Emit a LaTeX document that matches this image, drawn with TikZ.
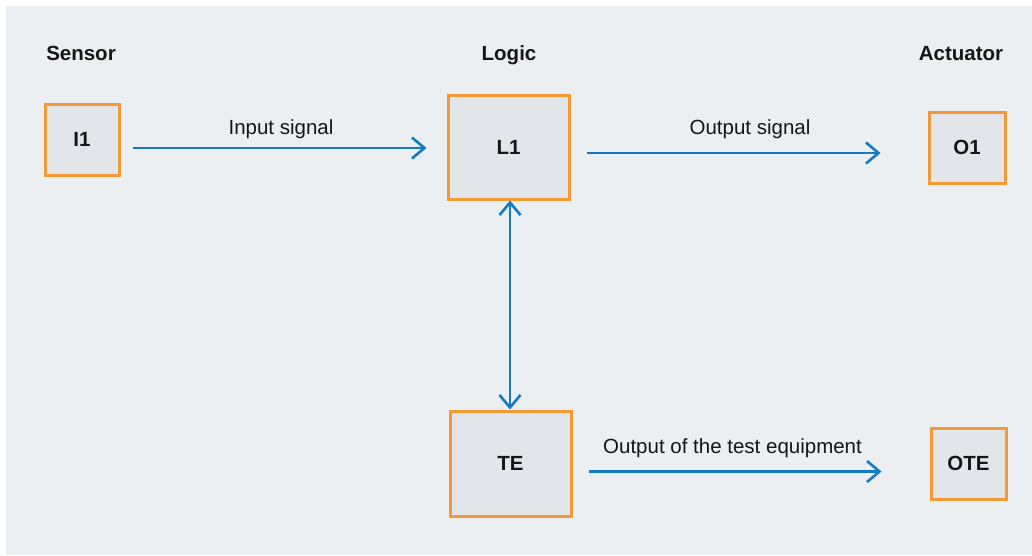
\documentclass[tikz,border=0pt]{standalone}
\usepackage{fontspec}
\setmainfont{Liberation Sans}
\usepackage{tikz}
\usetikzlibrary{arrows.meta}

\definecolor{panel}{HTML}{EBEFF2}
\definecolor{boxfill}{HTML}{E2E6EA}
\definecolor{boxline}{HTML}{F39A36}
\definecolor{sigblue}{HTML}{1679C4}
\definecolor{ink}{HTML}{161616}

\tikzset{
  unit/.style={draw=boxline, line width=3pt, fill=boxfill, inner sep=0pt,
    font=\fontsize{20.5}{24}\selectfont\bfseries, text=ink},
  head/.style={anchor=base, inner sep=0pt, font=\fontsize{20.5}{24}\selectfont\bfseries, text=ink},
  tag/.style={anchor=base, inner sep=0pt, font=\fontsize{20.5}{24}\selectfont, text=ink},
  barb/.tip={Straight Barb[length=12.5pt,width=21pt]},
  sig/.style={draw=sigblue, line width=2.6pt, -barb}
}

\begin{document}
\begin{tikzpicture}[x=1pt, y=-1pt]
		
		% Background panel
		\useasboundingbox (0,0) rectangle (1032,555);
		\fill[white] (0,0) rectangle (1032,555);
		\fill[panel] (6,6) rectangle (1032,555);
		
		% Column headings
		\node[head] (sensor) at (81,60) {Sensor};
		\node[head] (logic) at (509,60) {Logic};
		\node[head] (actuator) at (961,60) {Actuator};
		
		% Blocks
		\node[unit, minimum width=74pt, minimum height=71pt] (I1) at (82,139.5) {I1};
		\node[unit, minimum width=121pt, minimum height=104pt] (L1) at (508.5,147) {L1};
		\node[unit, minimum width=76pt, minimum height=71pt] (O1) at (967,147.5) {O1};
		\node[unit, minimum width=121pt, minimum height=105pt] (TE) at (510.5,463.5) {TE};
		\node[unit, minimum width=75pt, minimum height=71pt] (OTE) at (968.5,463.5) {OTE};
		
		% Signals
		\draw[sig] ([xshift=12pt,yshift=-8.5pt]I1.east) coordinate (in) -- ([xshift=-20pt]in -| L1.west);
		\draw[sig] ([xshift=16pt,yshift=-6pt]L1.east) coordinate (out) -- ([xshift=-47pt]out -| O1.west);
		\draw[sig] ([xshift=16pt,yshift=-8pt]TE.east) coordinate (test) -- ([xshift=-48pt]test -| OTE.west);
		\draw[sig, barb-barb] ([xshift=1.5pt]L1.south) -- ([xshift=-0.5pt]TE.north);
		
		% Signal labels
		\node[tag] (inlabel) at (281,134) {Input signal};
		\node[tag] (outlabel) at (750,134) {Output signal};
		\node[tag] (testlabel) at (732.5,453) {Output of the test equipment};
	\end{tikzpicture}
\end{document}
